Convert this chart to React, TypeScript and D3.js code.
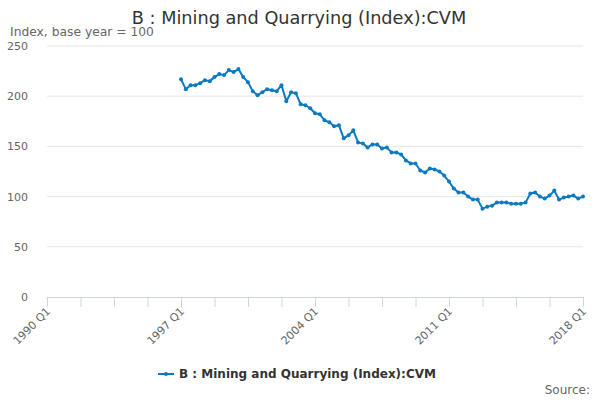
import React from "react";
import * as d3 from "d3";

const title = "B : Mining and Quarrying (Index):CVM";
const yAxisTitle = "Index, base year = 100";
const startYear = 1990;
const endYear = 2018;
const dataStartYear = 1997;
const values: number[] = [
  217, 207, 211, 211, 213, 216, 215, 219, 222, 221, 226, 224,
  227, 219, 214, 205, 201, 204, 207, 206, 205, 211, 195, 204,
  203, 192, 191, 188, 183, 182, 176, 174, 170, 171, 158, 161,
  166, 154, 153, 149, 152, 152, 148, 149, 144, 144, 142, 136,
  133, 133, 126, 124, 128, 127, 125, 121, 115, 108, 104, 104,
  100, 97, 97, 88, 90, 91, 94, 94, 94, 93, 93, 93,
  94, 103, 104, 100, 98, 101, 106, 97, 99, 100, 101, 98,
  100,
];
const yTicks = [0, 50, 100, 150, 200, 250];
const tickInterval = 7;
const labelEvery = 4;

const categories: string[] = [];
for (let y = startYear; y <= endYear; y++) {
  for (let q = 1; q <= 4; q++) {
    if (y === endYear && q > 1) break;
    categories.push(`${y} Q${q}`);
  }
}
const offset = (dataStartYear - startYear) * 4;

export default function App() {
  const W = 600, H = 400;
  const left = 47, right = 583, top = 46, bottom = 297;
  const x = d3.scaleLinear().domain([0, categories.length - 1]).range([left, right]);
  const y = d3.scaleLinear().domain([0, 250]).range([bottom, top]);
  const color = "#0b7ac0";
  const pts = values.map((v, i) => [x(i + offset), y(v)] as [number, number]);
  const line = d3.line()(pts) || "";
  const ticks = d3.range(0, categories.length, tickInterval);
  const font = "'DejaVu Sans', sans-serif";
  return (
    <svg width={W} height={H} style={{ position: "absolute", left: 0, top: 0, fontFamily: font }}>
      <rect width={W} height={H} fill="#fff" />
      <text x={299} y={24} textAnchor="middle" fontSize={17.7} fill="#333">{title}</text>
      <text x={10} y={36} fontSize={12.3} fill="#666">{yAxisTitle}</text>
      {yTicks.map((t) => (
        <g key={t}>
          {t > 0 && <line x1={left} x2={right} y1={y(t)} y2={y(t)} stroke="#e6e6e6" />}
          <text x={28} y={y(t) + 4} textAnchor="end" fontSize={11} fill="#666">{t}</text>
        </g>
      ))}
      <line x1={left} x2={right} y1={bottom + 0.5} y2={bottom + 0.5} stroke="#ccd6eb" />
      {ticks.map((i, k) => (
        <g key={i}>
          <line x1={x(i) + 0.5} x2={x(i) + 0.5} y1={bottom} y2={bottom + 10} stroke="#ccd6eb" />
          {k % labelEvery === 0 && (
            <text
              transform={`translate(${x(i) + 4},${bottom + 15}) rotate(-45)`}
              textAnchor="end"
              fontSize={11}
              fill="#666"
            >
              {categories[i]}
            </text>
          )}
        </g>
      ))}
      <path d={line} fill="none" stroke={color} strokeWidth={2} strokeLinejoin="round" />
      {pts.map((p, i) => (
        <circle key={i} cx={p[0]} cy={p[1]} r={2} fill={color} />
      ))}
      <g transform="translate(158,374)">
        <line x1={0} x2={16} y1={0} y2={0} stroke={color} strokeWidth={2} />
        <circle cx={8} cy={0} r={2} fill={color} />
        <text x={21} y={4} fontSize={12} fontWeight="bold" fill="#333">{title}</text>
      </g>
      <text x={590} y={394} textAnchor="end" fontSize={12} fill="#666">Source:</text>
    </svg>
  );
}
